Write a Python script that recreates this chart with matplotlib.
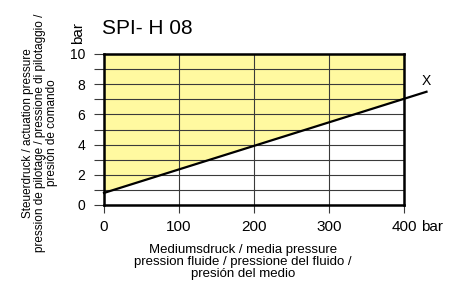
import matplotlib
matplotlib.use("Agg")
import matplotlib.pyplot as plt
import numpy as np

# data
medium_bar = [0, 430]          # media pressure (bar)
actuation_bar = [0.8, 7.5]     # minimum actuation pressure (bar)
x_ticks = [0, 100, 200, 300, 400]
y_ticks = [0, 2, 4, 6, 8, 10]
y_minor = [1, 3, 5, 7, 9]
title = "SPI- H 08"

plt.rcParams["font.family"] = ["Liberation Sans", "DejaVu Sans"]

fig = plt.figure(figsize=(4.62, 2.86), dpi=100)
ax = fig.add_axes([104 / 462, 1 - 205 / 286, 300 / 462, 151 / 286])

xs = np.array(medium_bar, dtype=float)
ys = np.array(actuation_bar, dtype=float)
slope = (ys[1] - ys[0]) / (xs[1] - xs[0])
fill_x = np.array([0, 400])
fill_y = ys[0] + slope * fill_x
ax.fill_between(fill_x, fill_y, 10, color="#fff9a0", zorder=0, lw=0)

ax.set_xlim(0, 400)
ax.set_ylim(0, 10)
ax.set_xticks(x_ticks)
ax.set_yticks(y_ticks)
ax.set_yticks(y_minor, minor=True)
ax.grid(True, which="both", color="#3a3a3a", lw=0.8)
ax.set_axisbelow(True)
ax.tick_params(axis="both", which="both", direction="out", width=0.8,
               color="#3a3a3a")
ax.tick_params(axis="y", which="both", length=7, labelsize=10, pad=6.5)
ax.tick_params(axis="x", length=6, labelsize=11, pad=5)
for s in ax.spines.values():
    s.set_linewidth(1.8)
    s.set_zorder(4)

ax.plot(xs, ys, color="black", lw=1.6, clip_on=False, zorder=3)
ax.text(xs[1], ys[1] + 0.25, "X", fontsize=10, ha="center", va="bottom")

fig.text(421 / 462, 1 - 227 / 286, "bar", fontsize=11, ha="left", va="center")
fig.text(78 / 462, 1 - 33 / 286, "bar", fontsize=11, rotation=90, ha="center", va="center")
fig.text(102 / 462, 1 - 29 / 286, title, fontsize=15, ha="left", va="center")

fig.text(40 / 462, 1 - 133 / 286,
         "Steuerdruck / actuation pressure\npression de pilotage / pressione di pilotaggio /\npresión de comando",
         fontsize=8.5, rotation=90, ha="center", va="center", linespacing=1.05)
fig.text(243 / 462, 1 - 262 / 286,
         "Mediumsdruck / media pressure\npression fluide / pressione del fluido /\npresión del medio",
         fontsize=9.5, ha="center", va="center", linespacing=1.0)

fig.savefig("out.png", dpi=100)
